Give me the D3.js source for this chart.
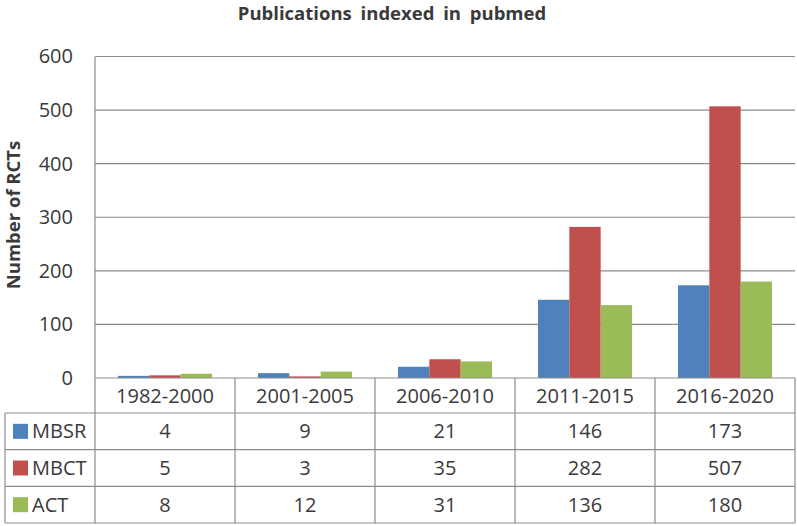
<!DOCTYPE html>
<html>
<head>
<meta charset="utf-8">
<script src="https://cdn.jsdelivr.net/npm/d3@7"></script>
<style>
  body { margin: 0; background: #fff; }
  text { font-family: "Open Sans", sans-serif; fill: #3a3a3a; }
</style>
</head>
<body>
<div id="chart"></div>
<script>
// data
var periods = ["1982-2000", "2001-2005", "2006-2010", "2011-2015", "2016-2020"];
var seriesNames = ["MBSR", "MBCT", "ACT"];
var mbsr = [4, 9, 21, 146, 173];
var mbct = [5, 3, 35, 282, 507];
var act = [8, 12, 31, 136, 180];
var yTicks = [0, 100, 200, 300, 400, 500, 600];
var colors = ["#4f81bd", "#c0504d", "#9bbb59"];

var values = [mbsr, mbct, act];

var svgWidth = 797;
var svgHeight = 526;

var margin = { top: 56.5, left: 95, right: 2 };
var plotBottom = 378;
var tableTop = 413;
var tableBottom = 523;
var tableLeft = 5;

var svg = d3.select("#chart").append("svg")
    .attr("width", svgWidth)
    .attr("height", svgHeight);

// scales
var x0 = d3.scaleBand()
    .domain(periods)
    .range([margin.left, svgWidth - margin.right]);

var x1 = d3.scaleBand()
    .domain(seriesNames)
    .range([23, x0.bandwidth() - 23]);

var y = d3.scaleLinear()
    .domain([0, 600])
    .range([plotBottom, margin.top]);

var rowScale = d3.scaleBand()
    .domain(seriesNames)
    .range([tableTop, tableBottom]);

// gridlines
svg.append("g")
    .selectAll("line")
    .data(yTicks.slice(1))
    .enter().append("line")
    .attr("x1", margin.left)
    .attr("x2", svgWidth - margin.right)
    .attr("y1", d => y(d))
    .attr("y2", d => y(d))
    .attr("stroke", "#8c8c8c")
    .attr("stroke-width", 1.2);

// y axis tick labels
var yAxis = d3.axisLeft(y).tickValues(yTicks).tickSize(0).tickPadding(22);
var yG = svg.append("g")
    .attr("transform", `translate(${margin.left},0)`)
    .call(yAxis);
yG.select(".domain").remove();
yG.selectAll("text")
    .style("font-size", "20px")
    .attr("fill", "#3a3a3a");

// bars
var groups = svg.append("g")
    .selectAll("g")
    .data(periods)
    .enter().append("g")
    .attr("transform", d => `translate(${x0(d)},0)`);

groups.selectAll("rect")
    .data((d, i) => seriesNames.map((s, k) => ({ s: s, v: values[k][i], c: colors[k] })))
    .enter().append("rect")
    .attr("x", d => x1(d.s))
    .attr("width", x1.bandwidth())
    .attr("y", d => y(d.v))
    .attr("height", d => plotBottom - y(d.v))
    .attr("fill", d => d.c);

// table lines
var lineColor = "#8c8c8c";
var tg = svg.append("g").attr("stroke", lineColor).attr("stroke-width", 1.2);

// axis line / header top
tg.append("line")
    .attr("x1", margin.left).attr("x2", svgWidth - margin.right)
    .attr("y1", plotBottom).attr("y2", plotBottom);

// row lines
tg.selectAll(".hrow")
    .data(seriesNames.map(s => rowScale(s)).concat([tableBottom]))
    .enter().append("line")
    .attr("x1", tableLeft).attr("x2", svgWidth - margin.right)
    .attr("y1", d => d).attr("y2", d => d);

// left axis line
tg.append("line")
    .attr("x1", margin.left).attr("x2", margin.left)
    .attr("y1", margin.top).attr("y2", tableBottom);

// table left border
tg.append("line")
    .attr("x1", tableLeft).attr("x2", tableLeft)
    .attr("y1", tableTop).attr("y2", tableBottom);

// column dividers
tg.selectAll(".vcol")
    .data(periods.map(p => x0(p) + x0.bandwidth()))
    .enter().append("line")
    .attr("x1", d => d).attr("x2", d => d)
    .attr("y1", plotBottom).attr("y2", tableBottom);

// header labels
svg.append("g")
    .selectAll("text")
    .data(periods)
    .enter().append("text")
    .attr("x", d => x0(d) + x0.bandwidth() / 2)
    .attr("y", (plotBottom + tableTop) / 2)
    .attr("dy", "0.35em")
    .attr("text-anchor", "middle")
    .style("font-size", "20px")
    .text(d => d);

// value cells
seriesNames.forEach(function(s, k) {
    var cy = rowScale(s) + rowScale.bandwidth() / 2;
    svg.append("g")
        .selectAll("text")
        .data(values[k])
        .enter().append("text")
        .attr("x", (d, i) => x0(periods[i]) + x0.bandwidth() / 2)
        .attr("y", cy)
        .attr("dy", "0.35em")
        .attr("text-anchor", "middle")
        .style("font-size", "20px")
        .text(d => d);

    // legend key + name
    svg.append("rect")
        .attr("x", 13)
        .attr("y", cy - 7.5)
        .attr("width", 15)
        .attr("height", 15)
        .attr("fill", colors[k]);
    svg.append("text")
        .attr("x", 32)
        .attr("y", cy)
        .attr("dy", "0.35em")
        .style("font-size", "20px")
        .text(s);
});

// title
svg.append("text")
    .attr("x", 392)
    .attr("y", 20)
    .attr("text-anchor", "middle")
    .style("font-size", "18.5px")
    .style("font-weight", "bold")
    .style("word-spacing", "4px")
    .attr("fill", "#1a1a1a")
    .text("Publications indexed in pubmed");

// y axis title
svg.append("text")
    .attr("transform", "translate(20,215) rotate(-90)")
    .attr("text-anchor", "middle")
    .style("font-size", "18.5px")
    .style("font-weight", "bold")
    .attr("fill", "#1a1a1a")
    .text("Number of RCTs");
</script>
</body>
</html>
